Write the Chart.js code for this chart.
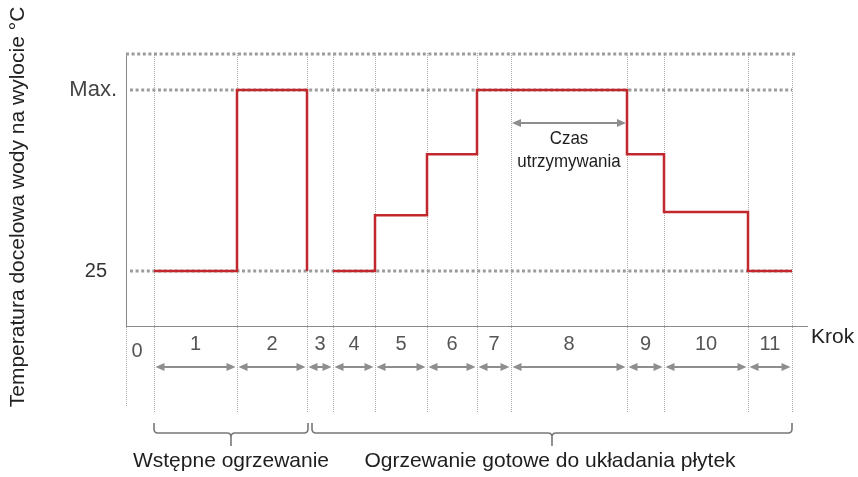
<!DOCTYPE html>
<html>
<head>
<meta charset="utf-8">
<script src="https://cdn.jsdelivr.net/npm/chart.js@4"></script>
<style>
  html, body { margin: 0; padding: 0; background: #fff; }
  canvas { display: block; }
</style>
</head>
<body>
<canvas id="c" width="858" height="477" style="width:858px;height:477px"></canvas>
<script>
// Program ogrzewania wylewki: docelowa temperatura wody w kolejnych krokach
const MAX_TEMP = 60;            // poziom "Max." (wartość umowna)
const BASE_TEMP = 25;

// Kroki 0..11 oraz ich granice na osi czasu (jednostki umowne)
const stepNames  = ['0', '1', '2', '3', '4', '5', '6', '7', '8', '9', '10', '11'];
const stepEdges  = [0, 28, 111, 181, 207, 249, 301, 351, 385, 501, 538, 622, 666];
const stepTemps  = [null, 25, MAX_TEMP, 25, 25, 35.8, 47.6, MAX_TEMP, MAX_TEMP, 47.6, 36.4, 25];
const stepDrawn  = [false, true, true, false, true, true, true, true, true, true, true, true];

// Oś Y
const yTickValues = [BASE_TEMP, MAX_TEMP];
const yTickLabels = ['25', 'Max.'];
const Y_MIN = 14.365;
const Y_MAX = 67.155;

// Fazy programu
const phaseNames = ['Wstępne ogrzewanie', 'Ogrzewanie gotowe do układania płytek'];
const phaseSteps = [[1, 2], [3, 11]];

// Krok z czasem utrzymywania
const holdStep = 8;
const holdText = ['Czas', 'utrzymywania'];

const axisTitle = 'Temperatura docelowa wody na wylocie °C';
const xAxisName = 'Krok';

const FONT = '"Liberation Sans", Arial, Helvetica, sans-serif';

// Punkty linii schodkowej
const curve = [];
for (let i = 1; i < stepNames.length; i++) {
  curve.push({ x: stepEdges[i], y: stepTemps[i] });
  if (!stepDrawn[i]) curve.push({ x: stepEdges[i], y: null });
}
curve.push({ x: stepEdges[stepEdges.length - 1], y: stepTemps[stepTemps.length - 1] });

function drawArrow(ctx, xa, xb, yy) {
  const L = 9, H = 4;
  ctx.beginPath();
  ctx.moveTo(xa + L - 1, yy);
  ctx.lineTo(xb - L + 1, yy);
  ctx.stroke();
  ctx.beginPath();
  ctx.moveTo(xa, yy); ctx.lineTo(xa + L, yy - H); ctx.lineTo(xa + L, yy + H); ctx.closePath();
  ctx.fill();
  ctx.beginPath();
  ctx.moveTo(xb, yy); ctx.lineTo(xb - L, yy - H); ctx.lineTo(xb - L, yy + H); ctx.closePath();
  ctx.fill();
}

function drawBrace(ctx, x1, x2, top, base, tip) {
  const r = 4, mid = (x1 + x2) / 2;
  ctx.beginPath();
  ctx.moveTo(x1, top);
  ctx.lineTo(x1, base - r);
  ctx.quadraticCurveTo(x1, base, x1 + r, base);
  ctx.lineTo(mid - r, base);
  ctx.quadraticCurveTo(mid, base, mid, base + r);
  ctx.lineTo(mid, tip);
  ctx.moveTo(mid, base + r);
  ctx.quadraticCurveTo(mid, base, mid + r, base);
  ctx.lineTo(x2 - r, base);
  ctx.quadraticCurveTo(x2, base, x2, base - r);
  ctx.lineTo(x2, top);
  ctx.stroke();
}

const decor = {
  id: 'decor',
  beforeDatasetsDraw(chart) {
    const { ctx, chartArea, scales: { x, y } } = chart;
    const px = v => x.getPixelForValue(v);
    const py = v => y.getPixelForValue(v);
    const end = stepEdges[stepEdges.length - 1];
    const lowEnd = chartArea.bottom + 86;
    ctx.save();

    // pionowe linie granic kroków
    ctx.strokeStyle = '#a9a9a9';
    ctx.lineWidth = 1;
    ctx.setLineDash([1, 1]);
    for (let i = 1; i < stepEdges.length; i++) {
      const xx = Math.round(px(stepEdges[i])) + 0.5;
      ctx.beginPath();
      ctx.moveTo(xx, chartArea.top);
      ctx.lineTo(xx, lowEnd);
      ctx.stroke();
    }
    // przedłużenie osi Y pod osią X
    const xa = Math.round(px(0)) + 0.5;
    ctx.beginPath();
    ctx.moveTo(xa, chartArea.bottom + 1);
    ctx.lineTo(xa, lowEnd - 5);
    ctx.stroke();

    // poziome linie kropkowane
    ctx.strokeStyle = '#9b9b9b';
    ctx.lineWidth = 3;
    ctx.setLineDash([3, 2.6]);
    ctx.beginPath();
    ctx.moveTo(px(0), py(Y_MAX) + 1);
    ctx.lineTo(px(end) + 3, py(Y_MAX) + 1);
    ctx.stroke();
    for (const v of yTickValues) {
      ctx.beginPath();
      ctx.moveTo(px(4), py(v));
      ctx.lineTo(px(end), py(v));
      ctx.stroke();
    }
    ctx.restore();
  },
  afterDatasetsDraw(chart) {
    const { ctx, chartArea, scales: { x, y } } = chart;
    const px = v => x.getPixelForValue(v);
    const py = v => y.getPixelForValue(v);
    const bottom = chartArea.bottom;
    ctx.save();
    ctx.setLineDash([]);

    // numery kroków
    ctx.textAlign = 'center';
    ctx.textBaseline = 'middle';
    ctx.font = '20px ' + FONT;
    ctx.fillStyle = '#555';
    for (let i = 0; i < stepNames.length; i++) {
      const cx = (px(stepEdges[i]) + px(stepEdges[i + 1])) / 2 + (i === 0 ? -3 : 0);
      ctx.fillText(stepNames[i], cx, bottom + (i === 0 ? 25 : 18));
    }

    // strzałki czasu trwania kroków
    ctx.strokeStyle = '#8e8e8e';
    ctx.fillStyle = '#8e8e8e';
    ctx.lineWidth = 2;
    for (let i = 1; i < stepNames.length; i++) {
      drawArrow(ctx, px(stepEdges[i]) + 1.5, px(stepEdges[i + 1]) - 1.5, bottom + 41);
    }

    // czas utrzymywania
    const hy = py(MAX_TEMP) + 33;
    drawArrow(ctx, px(stepEdges[holdStep]) + 1, px(stepEdges[holdStep + 1]) - 1, hy);
    const hx = (px(stepEdges[holdStep]) + px(stepEdges[holdStep + 1])) / 2;
    ctx.fillStyle = '#1e1e1e';
    ctx.font = '19px ' + FONT;
    holdText.forEach((t, k) => {
      ctx.save();
      ctx.translate(hx, hy + 16 + k * 23);
      ctx.scale(0.89, 1);
      ctx.fillText(t, 0, 0);
      ctx.restore();
    });

    // klamry faz
    ctx.strokeStyle = '#777';
    ctx.lineWidth = 1.6;
    ctx.font = '21px ' + FONT;
    ctx.fillStyle = '#1e1e1e';
    phaseSteps.forEach(([a, b], k) => {
      const x1 = px(stepEdges[a]) + (k === 0 ? 0 : 5);
      const x2 = px(stepEdges[b + 1]) + (k === 0 ? 1 : 0);
      drawBrace(ctx, x1, x2, bottom + 97, bottom + 107, bottom + 120);
      ctx.fillText(phaseNames[k], (x1 + x2) / 2 - (k === 0 ? 0 : 2), bottom + 135);
    });

    // nazwa osi X
    ctx.textAlign = 'left';
    ctx.fillStyle = '#222';
    ctx.font = '21px ' + FONT;
    ctx.fillText(xAxisName, chartArea.right + 4, bottom + 11);

    // tytuł osi Y
    ctx.save();
    ctx.translate(18, 207);
    ctx.rotate(-Math.PI / 2);
    ctx.textAlign = 'center';
    ctx.fillText(axisTitle, 0, 0);
    ctx.restore();

    ctx.restore();
  }
};

new Chart(document.getElementById('c'), {
  type: 'line',
  data: {
    datasets: [{
      data: curve,
      stepped: 'before',
      borderColor: '#c1272d',
      borderWidth: 2.5,
      pointRadius: 0,
      fill: false,
      spanGaps: false
    }]
  },
  options: {
    responsive: false,
    animation: false,
    devicePixelRatio: 1,
    layout: { padding: { top: 53, right: 51, left: 0, bottom: 0 } },
    plugins: { legend: { display: false }, tooltip: { enabled: false } },
    scales: {
      x: {
        type: 'linear',
        min: 0,
        max: 681,
        grid: { display: false, drawTicks: false },
        border: { display: true, color: '#8a8a8a', width: 1 },
        ticks: { display: false },
        afterFit: s => { s.height = 151; }
      },
      y: {
        type: 'linear',
        min: Y_MIN,
        max: Y_MAX,
        grid: { display: false, drawTicks: false },
        border: { display: true, color: '#8a8a8a', width: 1 },
        afterBuildTicks: s => { s.ticks = yTickValues.map(v => ({ value: v })); },
        ticks: {
          padding: 9,
          color: ctx => (ctx.tick && ctx.tick.value === MAX_TEMP ? '#444' : '#333'),
          font: ctx => ({ family: FONT, size: ctx.tick && ctx.tick.value === MAX_TEMP ? 22 : 20 }),
          callback: v => {
            const k = yTickValues.indexOf(v);
            const t = k >= 0 ? yTickLabels[k] : '';
            return v === MAX_TEMP ? t : t + '\u2002';
          }
        },
        afterFit: s => { s.width = 126; }
      }
    }
  },
  plugins: [decor]
});
</script>
</body>
</html>
